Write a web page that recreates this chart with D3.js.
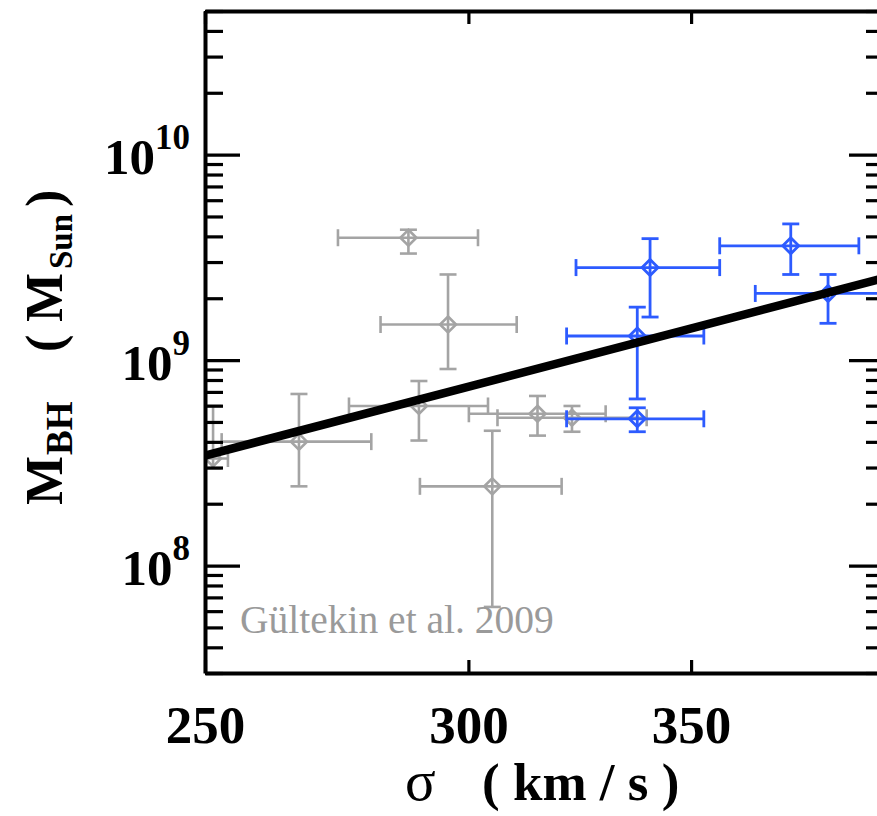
<!DOCTYPE html>
<html><head><meta charset="utf-8">
<script src="https://cdn.jsdelivr.net/npm/d3@7"></script>
<style>body{margin:0;background:#fff;} svg{display:block}</style>
</head><body>
<svg id="chart" width="877" height="816"></svg>
<script>
// ---- data ----
const sigmaDomain = [250, 400];
const massDomain = [3e7, 5e10];
const xTickValues = [250, 300, 350];
const yMajorExponents = [8, 9, 10];

// Gültekin et al. 2009 sample (grey)
const graySigma   = [287.8, 295.8, 266.8, 289.9, 305.0, 314.7, 322.3, 251.4];
const graySigmaLo = [274.1, 282.3, 252.9, 276.2, 290.1, 300.1, 306.1, 246.0];
const graySigmaHi = [302.0, 310.2, 280.5, 304.1, 320.0, 329.9, 339.4, 254.0];
const grayMass    = [3.94e9, 1.49e9, 4.01e8, 5.98e8, 2.43e8, 5.48e8, 5.24e8, 3.32e8];
const grayMassLo  = [3.30e9, 9.05e8, 2.43e8, 4.06e8, 6.29e7, 4.29e8, 4.48e8, 2.97e8];
const grayMassHi  = [4.31e9, 2.61e9, 6.84e8, 7.91e8, 4.53e8, 6.69e8, 5.98e8, 5.98e8];

// new sample (blue)
const blueSigma   = [340.2, 337.2, 337.2, 375.0, 384.8];
const blueSigmaLo = [323.2, 321.1, 321.1, 357.0, 365.9];
const blueSigmaHi = [357.0, 353.1, 353.1, 393.1, 405.0];
const blueMass    = [2.82e9, 1.31e9, 5.18e8, 3.60e9, 2.11e9];
const blueMassLo  = [1.62e9, 6.47e8, 4.48e8, 2.61e9, 1.51e9];
const blueMassHi  = [3.90e9, 1.81e9, 5.86e8, 4.60e9, 2.61e9];

// fitted relation
const fitSigma = [250, 400];
const fitMass  = [3.43e8, 2.51e9];

// ---- layout ----
const L = 205, R = 884, T = 11, B = 673;
const svg = d3.select("#chart");
const x = d3.scaleLog().domain(sigmaDomain).range([L, R]);
const y = d3.scaleLog().domain(massDomain).range([B, T]);

const serif = "'Liberation Serif','Times New Roman',serif";

svg.append("defs").append("clipPath").attr("id","plotclip")
  .append("rect").attr("x", L).attr("y", T).attr("width", R - L).attr("height", B - T);

const plot = svg.append("g").attr("clip-path","url(#plotclip)");

function drawSet(sig, sLo, sHi, m, mLo, mHi, color, sw) {
  const rows = sig.map((s, i) => ({s, sLo: sLo[i], sHi: sHi[i], m: m[i], mLo: mLo[i], mHi: mHi[i]}));
  const g = plot.append("g").attr("stroke", color).attr("stroke-width", sw).attr("fill", "none");
  const cap = 8.5;
  rows.forEach(d => {
    const cx = x(d.s), cy = y(d.m);
    const e = g.append("g");
    e.append("line").attr("x1", x(d.sLo)).attr("x2", x(d.sHi)).attr("y1", cy).attr("y2", cy);
    e.append("line").attr("x1", x(d.sLo)).attr("x2", x(d.sLo)).attr("y1", cy - cap).attr("y2", cy + cap);
    e.append("line").attr("x1", x(d.sHi)).attr("x2", x(d.sHi)).attr("y1", cy - cap).attr("y2", cy + cap);
    e.append("line").attr("x1", cx).attr("x2", cx).attr("y1", y(d.mLo)).attr("y2", y(d.mHi));
    e.append("line").attr("x1", cx - cap).attr("x2", cx + cap).attr("y1", y(d.mLo)).attr("y2", y(d.mLo));
    e.append("line").attr("x1", cx - cap).attr("x2", cx + cap).attr("y1", y(d.mHi)).attr("y2", y(d.mHi));
    e.append("path").attr("d", `M${cx},${cy-8}L${cx+8},${cy}L${cx},${cy+8}L${cx-8},${cy}Z`);
  });
}
drawSet(graySigma, graySigmaLo, graySigmaHi, grayMass, grayMassLo, grayMassHi, "#a4a4a4", 2.6);
drawSet(blueSigma, blueSigmaLo, blueSigmaHi, blueMass, blueMassLo, blueMassHi, "#2d5bff", 2.8);

// fit line
plot.append("path")
  .datum(fitSigma.map((s, i) => [s, fitMass[i]]))
  .attr("d", d3.line().x(d => x(d[0])).y(d => y(d[1])))
  .attr("stroke", "#000").attr("stroke-width", 8.5).attr("fill", "none");

// ---- axes ----
const yTicks = [];
for (let e = 7; e <= 10; e++) for (let k = 1; k <= 9; k++) {
  const v = k * Math.pow(10, e);
  if (v >= massDomain[0] && v <= massDomain[1]) yTicks.push(v);
}
const isMajor = v => Math.abs(Math.log10(v) - Math.round(Math.log10(v))) < 1e-9;

function styleAxis(g) {
  g.select(".domain").attr("stroke", "#000").attr("stroke-width", 4);
  g.selectAll(".tick line").attr("stroke", "#000").attr("stroke-width", 3.2);
}

const yLeft = svg.append("g").attr("transform", `translate(${L},0)`)
  .call(d3.axisLeft(y).tickValues(yTicks).tickSize(-18).tickSizeOuter(0).tickPadding(15).tickFormat(() => ""));
yLeft.selectAll(".tick line").attr("x2", d => isMajor(d) ? 35 : 18);
styleAxis(yLeft);
yLeft.selectAll(".tick text").each(function(d) {
  if (!isMajor(d)) return;
  const t = d3.select(this).attr("dy", null).attr("y", 19)
    .attr("font-family", serif).attr("font-weight", "bold").attr("font-size", 51).attr("fill", "#000");
  t.append("tspan").text("10");
  t.append("tspan").attr("dy", -25).attr("font-size", 35).text(String(Math.round(Math.log10(d))));
});

const yRight = svg.append("g").attr("transform", `translate(${R},0)`)
  .call(d3.axisRight(y).tickValues(yTicks).tickSize(-18).tickSizeOuter(0).tickFormat(() => ""));
yRight.selectAll(".tick line").attr("x2", d => isMajor(d) ? -35 : -18);
styleAxis(yRight);

const xBottom = svg.append("g").attr("transform", `translate(0,${B})`)
  .call(d3.axisBottom(x).tickValues(xTickValues).tickSize(-13).tickSizeOuter(0).tickPadding(0).tickFormat(d3.format("d")));
styleAxis(xBottom);
xBottom.selectAll(".tick text").attr("dy", null).attr("y", 70)
  .attr("font-family", serif).attr("font-weight", "bold").attr("font-size", 53).attr("fill", "#000");

const xTop = svg.append("g").attr("transform", `translate(0,${T})`)
  .call(d3.axisTop(x).tickValues(xTickValues).tickSize(-13).tickSizeOuter(0).tickFormat(() => ""));
styleAxis(xTop);

// ---- labels ----
const xl = svg.append("text").attr("y", 800).attr("font-family", serif).attr("fill", "#000");
xl.append("tspan").attr("x", 405).attr("font-size", 57).text("σ");
xl.append("tspan").attr("x", 482).attr("font-weight", "bold").attr("font-size", 53).text("( km / s )");

const yl = svg.append("text").attr("transform", "translate(62,0) rotate(-90)")
  .attr("font-family", serif).attr("font-weight", "bold").attr("font-size", 52).attr("fill", "#000");
yl.append("tspan").attr("x", -505).text("M");
yl.append("tspan").attr("x", -455).attr("font-size", 37).attr("dy", 10).text("BH");
yl.append("tspan").attr("x", -352).attr("dy", -10).text("(");
yl.append("tspan").attr("x", -322).text("M");
yl.append("tspan").attr("x", -269).attr("font-size", 33).attr("dy", 10).text("Sun");
yl.append("tspan").attr("x", -207).attr("dy", -10).text(")");

svg.append("text").attr("x", 240).attr("y", 633)
  .attr("font-family", serif).attr("font-size", 39.5).attr("fill", "#9a9a9a")
  .text("Gültekin et al. 2009");
</script>
</body></html>
